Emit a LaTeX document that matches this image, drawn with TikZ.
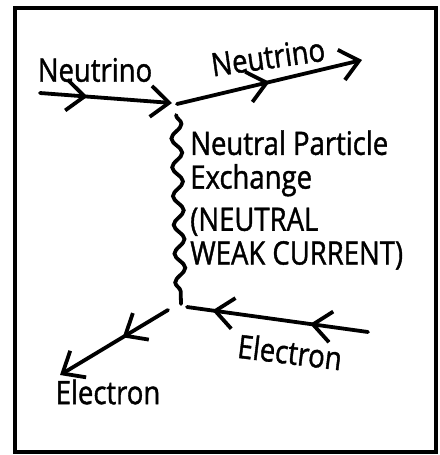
\documentclass[tikz,border=0pt]{standalone}
\usepackage{fontspec}
\setmainfont{Open Sans}[FakeStretch=0.85, FakeBold=1.2]
\usetikzlibrary{arrows.meta, decorations.pathmorphing, decorations.markings}

\tikzset{
    fermion/.style={line width=2.7pt, line cap=round, line join=round},
    midchev/.style={postaction={decorate}, decoration={markings,
        mark=at position #1 with {\arrow{Straight Barb[length=13pt, width=22pt]}}}},
    boson/.style={line width=2.7pt, line cap=round,
        decorate, decoration={snake, segment length=0.72cm, amplitude=0.13cm}},
    lbl/.style={font=\fontsize{23}{24}\selectfont, inner sep=0pt}
}

\begin{document}
\begin{tikzpicture}[x=0.025cm, y=-0.025cm]

    \useasboundingbox (0,0) rectangle (440,455);

    % ============================================================
    % FRAME
    % ============================================================
    \draw[line width=2.2pt] (15,8) rectangle (436,452);

    % ============================================================
    % VERTICES AND FREE ENDS
    % ============================================================
    \coordinate (nuin)  at (40,93);
    \coordinate (nuv)   at (172,103);
    \coordinate (nuv2)  at (177,104);
    \coordinate (nuout) at (362,60);
    \coordinate (zTop)  at (176,115);
    \coordinate (zBot)  at (181,304);
    \coordinate (ein)   at (368,332);
    \coordinate (ev)    at (187,307);
    \coordinate (ev2)   at (168,310);
    \coordinate (eout)  at (60,375);

    % ============================================================
    % NEUTRINO LINES
    % ============================================================
    \draw[fermion, -{Straight Barb[length=13pt, width=22pt]}, midchev=0.36]
        (nuin) -- (nuv);
    \draw[fermion, -{Straight Barb[length=13pt, width=22pt]}, midchev=0.5]
        (nuv2) -- (nuout);

    % ============================================================
    % NEUTRAL EXCHANGE
    % ============================================================
    \draw[boson] (zTop) -- (zBot);

    % ============================================================
    % ELECTRON LINES
    % ============================================================
    \draw[fermion,
        postaction={decorate}, decoration={markings,
            mark=at position 0.32 with {\arrow{Straight Barb[length=13pt, width=22pt]}},
            mark=at position 0.86 with {\arrow{Straight Barb[length=13pt, width=22pt]}}}]
        (ein) -- (ev);
    \draw[fermion, -{Straight Barb[length=13pt, width=22pt]}, midchev=0.42]
        (ev2) -- (eout);

    % ============================================================
    % LABELS
    % ============================================================
    \node[lbl] (nuinlbl)  at (95,70) {Neutrino};
    \node[lbl, rotate=8] (nuoutlbl) at (268,57) {Neutrino};
    \node[lbl, anchor=north west, align=left] (xlbl) at (190,130)
        {Neutral Particle\\ Exchange\\[6pt] (NEUTRAL\\ WEAK CURRENT)};
    \node[lbl, rotate=-7] (einlbl)  at (290,352) {Electron};
    \node[lbl] (eoutlbl) at (108,392) {Electron};

\end{tikzpicture}
\end{document}
